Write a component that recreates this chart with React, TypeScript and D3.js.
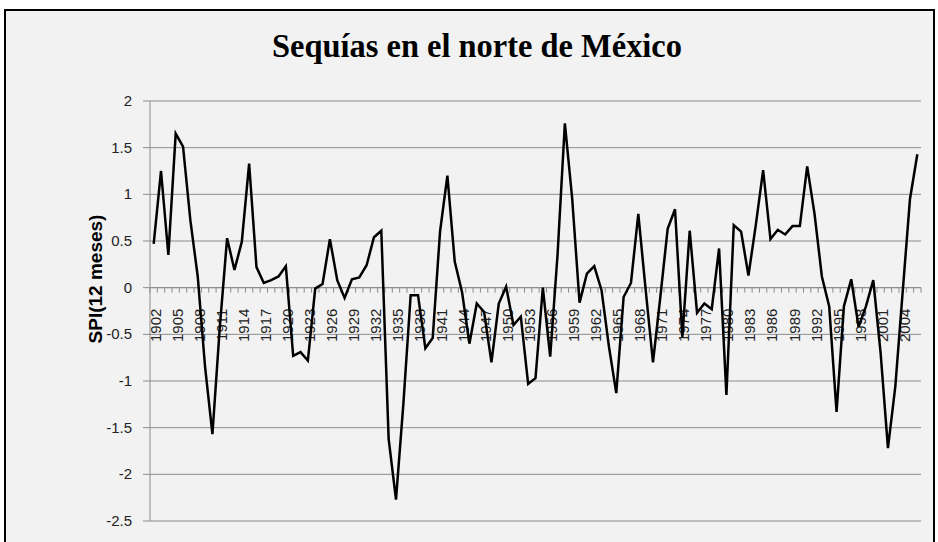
import React from "react";
import * as d3 from "d3";

const years: number[] = d3.range(1902, 2007);
const spi: number[] = [
  0.47, 1.25, 0.35, 1.65, 1.51, 0.72, 0.12, -0.85, -1.57, -0.43,
  0.53, 0.19, 0.49, 1.33, 0.22, 0.05, 0.08, 0.12, 0.23, -0.73,
  -0.69, -0.78, -0.01, 0.04, 0.52, 0.08, -0.11, 0.09, 0.11, 0.24,
  0.54, 0.61, -1.62, -2.27, -1.25, -0.08, -0.08, -0.65, -0.54, 0.6,
  1.2, 0.28, -0.05, -0.6, -0.17, -0.26, -0.8, -0.17, 0.01, -0.4,
  -0.31, -1.03, -0.97, 0.0, -0.74, 0.35, 1.76, 0.95, -0.16, 0.15,
  0.23, -0.03, -0.63, -1.13, -0.1, 0.05, 0.79, -0.02, -0.8, -0.1,
  0.63, 0.84, -0.53, 0.61, -0.27, -0.17, -0.23, 0.42, -1.15, 0.67,
  0.6, 0.13, 0.67, 1.26, 0.52, 0.62, 0.57, 0.66, 0.66, 1.3,
  0.79, 0.12, -0.2, -1.33, -0.2, 0.09, -0.42, -0.2, 0.08, -0.7,
  -1.72, -1.06, -0.05, 0.95, 1.43,
];
const yTicks: number[] = [2, 1.5, 1, 0.5, 0, -0.5, -1, -1.5, -2, -2.5];
const labelYears: number[] = years.filter((y) => (y - 1902) % 3 === 0);
const title = "Sequías en el norte de México";
const yTitle = "SPI(12 meses)";

export default function App() {
  const W = 938;
  const H = 542;
  const left = 150;
  const right = 921;
  const top = 101;
  const bottom = 521;

  const x = d3.scaleBand<number>().domain(years).range([left, right]).padding(0);
  const y = d3.scaleLinear().domain([-2.5, 2]).range([bottom, top]);
  const cx = (yr: number) => (x(yr) as number) + x.bandwidth() / 2;

  const line = d3
    .line<number>()
    .x((_, i) => cx(years[i]))
    .y((d) => y(d));

  const y0 = y(0);
  const boundaries = years.map((yr) => x(yr) as number).concat([right]);

  return (
    <svg
      width={W}
      height={H}
      style={{ position: "absolute", left: 0, top: 0, display: "block" }}
    >
      <rect x={0} y={0} width={W} height={H} fill="#ffffff" />
      <rect x={5} y={10} width={929} height={545} fill="#f2f2f2" stroke="#000" strokeWidth={2} />
      <text
        x={477}
        y={57}
        textAnchor="middle"
        fontFamily="'Liberation Serif', serif"
        fontWeight="bold"
        fontSize={34}
        textLength={410}
        lengthAdjust="spacingAndGlyphs"
        fill="#000"
      >
        {title}
      </text>
      {yTicks.map((t) => (
        <line key={"g" + t} x1={143} x2={right} y1={y(t)} y2={y(t)} stroke="#8c8c8c" strokeWidth={1} />
      ))}
      <line x1={left} x2={left} y1={top} y2={bottom} stroke="#8c8c8c" strokeWidth={1} />
      {yTicks.map((t) => (
        <text
          key={"yl" + t}
          x={132}
          y={y(t) + 5}
          textAnchor="end"
          fontFamily="'Liberation Sans', Arial, sans-serif"
          fontSize={15}
          fill="#222"
        >
          {String(t)}
        </text>
      ))}
      <text
        transform={`translate(102,${(top + bottom) / 2 - 32}) rotate(-90)`}
        textAnchor="middle"
        fontFamily="'Liberation Sans', Arial, sans-serif"
        fontWeight="bold"
        fontSize={19}
        fill="#000"
      >
        {yTitle}
      </text>
      <line x1={left} x2={right} y1={y0} y2={y0} stroke="#8c8c8c" strokeWidth={1} />
      {boundaries.map((b, i) => (
        <line key={"t" + i} x1={b} x2={b} y1={y0} y2={y0 + 5} stroke="#8c8c8c" strokeWidth={1} />
      ))}
      {labelYears.map((yr) => (
        <text
          key={"xl" + yr}
          transform={`translate(${cx(yr) + 7},${y0 + 21}) rotate(-90)`}
          textAnchor="end"
          fontFamily="'Liberation Sans', Arial, sans-serif"
          fontSize={15}
          fill="#222"
        >
          {String(yr)}
        </text>
      ))}
      <path d={line(spi) || ""} fill="none" stroke="#000" strokeWidth={2.5} strokeLinejoin="miter" />
    </svg>
  );
}
